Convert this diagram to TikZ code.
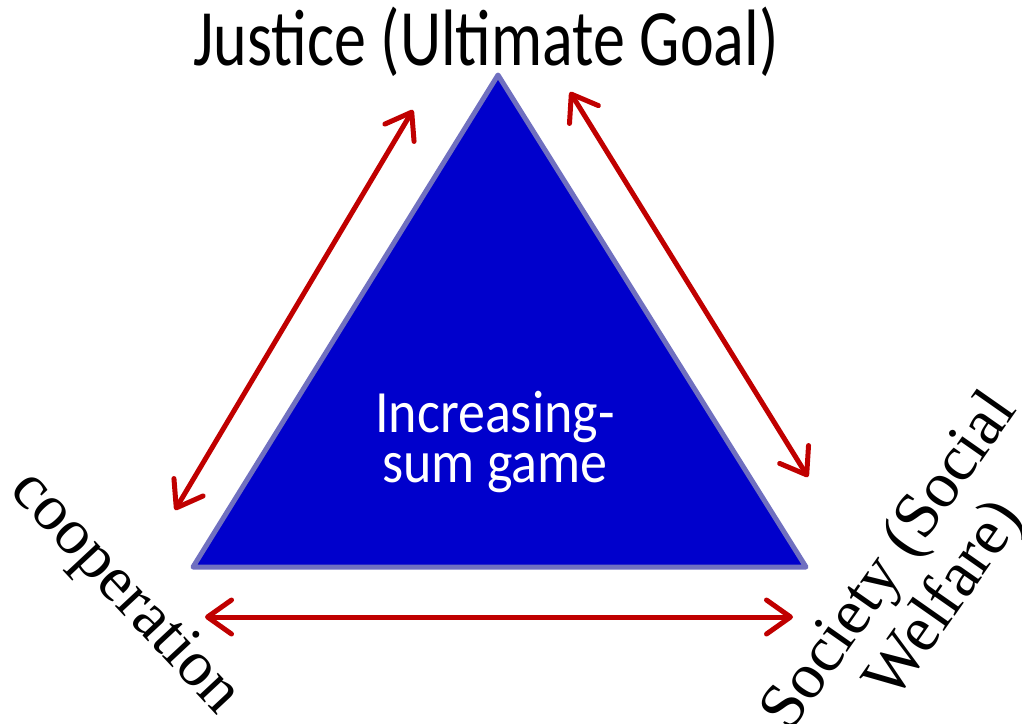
\documentclass[tikz,border=0pt]{standalone}
\usepackage{fontspec}
\setmainfont{Liberation Serif}
\newfontfamily\gillfont{Carlito}
\usetikzlibrary{arrows.meta}
\definecolor{triblue}{HTML}{0000CC}
\definecolor{triedge}{HTML}{7070C0}
\definecolor{arrred}{HTML}{C00000}
\tikzset{
  link/.style={{Straight Barb[length=24pt,width=34pt,round]}-{Straight Barb[length=24pt,width=34pt,round]},line width=5pt,arrred,line cap=round},
  corner/.style={font=\fontsize{65}{67}\selectfont,align=center,inner sep=0pt}
}

\begin{document}
\begin{tikzpicture}[x=1pt,y=-1pt]
  \useasboundingbox (0,0) rectangle (1022,723);
  % the triangle
  \coordinate (top) at (498,75);
  \coordinate (bl) at (193,567);
  \coordinate (br) at (806,567);
  \filldraw[fill=triblue,draw=triedge,line width=5pt,line join=round] (top)--(bl)--(br)--cycle;
  \node[font=\gillfont\fontsize{60}{50}\selectfont,white,align=center,inner sep=0pt,xscale=0.9] (game) at (495,442) {Increasing-\\sum game};
  % labels at the corners
  \node[font=\gillfont\fontsize{80}{80}\selectfont,anchor=base,inner sep=0pt,xscale=0.8] (justice) at (486,65) {Justice (Ultimate Goal)};
  \node[corner,rotate=-47] (coop) at (124,594) {cooperation};
  \node[corner,rotate=55] (society) at (919,582) {Society (Social\\Welfare)};
  % arrows between the corners
  \coordinate (l1) at (413,110);
  \coordinate (l2) at (175,510);
  \coordinate (r1) at (570,92);
  \coordinate (r2) at (808,477);
  \coordinate (b1) at (205,617);
  \coordinate (b2) at (793,617);
  \draw[link] (l1) -- (l2);
  \draw[link] (r1) -- (r2);
  \draw[link] (b1) -- (b2);
\end{tikzpicture}
\end{document}
